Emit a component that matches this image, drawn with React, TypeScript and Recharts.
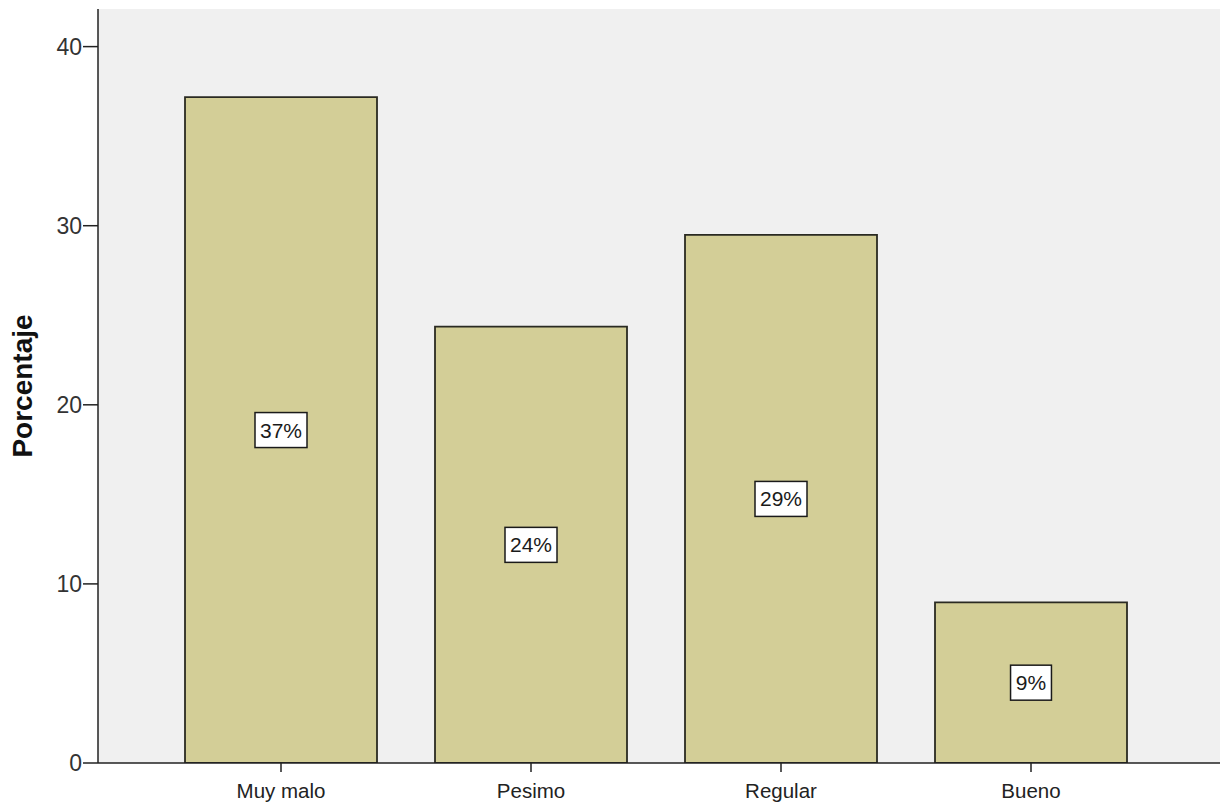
import React from 'react';
import { BarChart, Bar, XAxis, YAxis, CartesianGrid, LabelList } from 'recharts';

const categories = ['Muy malo', 'Pesimo', 'Regular', 'Bueno'];
const percentages = [37.18, 24.36, 29.49, 8.97];
const barLabels = ['37%', '24%', '29%', '9%'];
const yTicks = [0, 10, 20, 30, 40];
const yMax = 42.1;

const data = categories.map((c, i) => ({ cat: c, value: percentages[i], lbl: barLabels[i] }));

const FONT = '"Liberation Sans", Arial, sans-serif';

const BoxLabel = (props: any) => {
  const { x, y, width, height, value } = props;
  const cx = x + width / 2;
  const cy = y + height / 2;
  const s = String(value);
  const digits = s.replace('%', '').length;
  const tw = digits * 11.1 + 17.8;
  const bw = tw + 12;
  const bh = 35;
  return (
    <g>
      <rect x={cx - bw / 2} y={cy - bh / 2} width={bw} height={bh} fill="#ffffff" stroke="#1a1a1a" strokeWidth={1.5} />
      <text x={cx} y={cy + 7.5} textAnchor="middle" fontSize={21} fontFamily={FONT} fill="#1a1a1a">{s}</text>
    </g>
  );
};

const YLabel = (props: any) => {
  const vb = props.viewBox || {};
  const cy = (vb.y || 0) + (vb.height || 0) / 2;
  return (
    <text x={32} y={cy} transform={`rotate(-90, 32, ${cy})`} textAnchor="middle" fontSize={28} fontWeight="bold" fontFamily={FONT} fill="#111">
      Porcentaje
    </text>
  );
};

export default function App() {
  return (
    <div style={{ position: 'absolute', left: 0, top: 0, background: '#fff' }}>
      <BarChart width={1220} height={805} data={data} margin={{ top: 9, right: 0, left: 0, bottom: 0 }}>
        <CartesianGrid fill="#f0f0f0" horizontal={false} vertical={false} />
        <XAxis
          xAxisId="top"
          orientation="top"
          dataKey="cat"
          height={0}
          tick={false}
          tickLine={false}
          axisLine={{ stroke: '#333', strokeWidth: 1.5 }}
        />
        <XAxis
          dataKey="cat"
          padding={{ left: 58, right: 64 }}
          height={42}
          tickSize={9}
          tickMargin={11}
          axisLine={{ stroke: '#222', strokeWidth: 1.5 }}
          tickLine={{ stroke: '#222', strokeWidth: 1.5 }}
          tick={{ fill: '#222', fontSize: 20.5, fontFamily: FONT }}
          interval={0}
        />
        <YAxis
          width={98}
          domain={[0, yMax]}
          ticks={yTicks}
          allowDataOverflow
          tickSize={15}
          tickMargin={1}
          axisLine={{ stroke: '#222', strokeWidth: 1.5 }}
          tickLine={{ stroke: '#222', strokeWidth: 1.5 }}
          tick={{ fill: '#333', fontSize: 23, fontFamily: FONT }}
          label={{ content: YLabel }}
        />
        <Bar dataKey="value" fill="#d3ce97" stroke="#2a2a22" strokeWidth={1.8} barSize={192} isAnimationActive={false}>
          <LabelList dataKey="lbl" content={BoxLabel} />
        </Bar>
      </BarChart>
    </div>
  );
}
